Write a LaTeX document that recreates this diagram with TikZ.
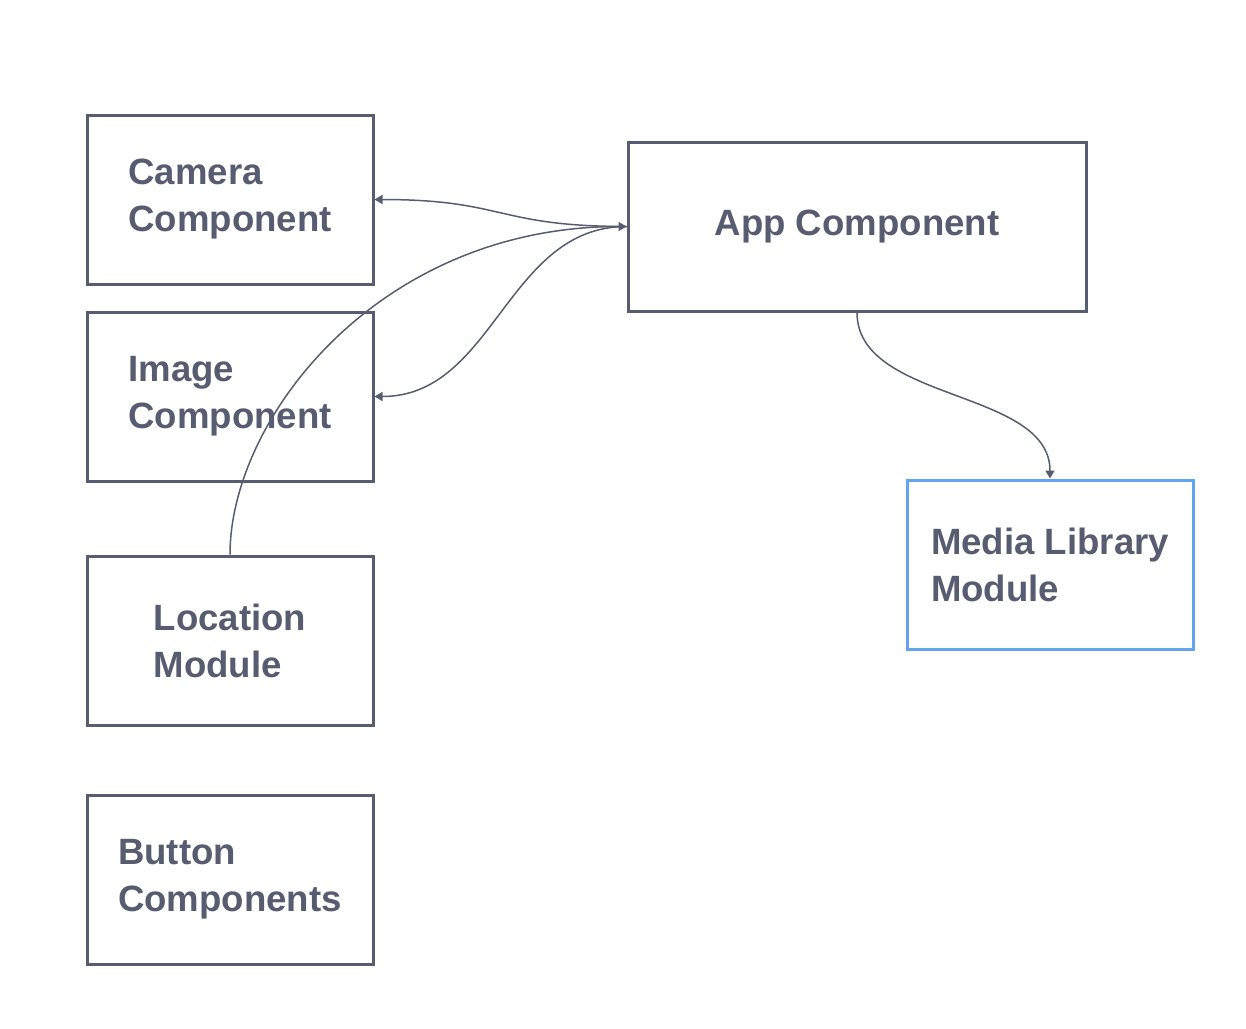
\documentclass[tikz,border=0pt]{standalone}
\usepackage{fontspec}
\setmainfont{Liberation Sans}
\usetikzlibrary{arrows.meta}
\definecolor{slate}{RGB}{88,92,112}
\definecolor{mediablue}{RGB}{99,164,238}

\begin{document}
\begin{tikzpicture}[x=0.5pt,y=-0.5pt,
    box/.style={rectangle,draw=slate,line width=1.5pt,minimum width=143pt,minimum height=84.5pt,
      inner sep=0pt,align=left,text=slate,font=\fontsize{18.3}{23.5}\selectfont\bfseries},
    link/.style={draw=slate,line width=0.75pt,-{Triangle[length=4pt,width=4.5pt]}}]
            \useasboundingbox (0,0) rectangle (1246,1028);

            \node [box] (camera) at (230,199.5) {Camera\\Component};
            \node [box] (image) at (230,396.5) {Image\\Component};
            \node [box] (location) at (230,640.5) {Location\\Module};
            \node [box] (button) at (230,879.5) {Button\\Components};
            \node [box,minimum width=229pt] (app) at (857,226.5) {App Component};
            \node [box,draw=mediablue] (media) at (1050,564.5) {Media Library\\Module};

            \path[link]
            (app.west) .. controls +(-130,0) and +(130,0) .. (camera.east);
            \path[link]
            (app.west) .. controls +(-120,0) and +(120,0) .. (image.east);
            \path[link]
            (location.north) .. controls +(0,-136) and +(-248,0) .. (app.west);
            \path[link]
            (app.south) .. controls +(0,90) and +(0,-90) .. (media.north);

        \end{tikzpicture}
\end{document}
